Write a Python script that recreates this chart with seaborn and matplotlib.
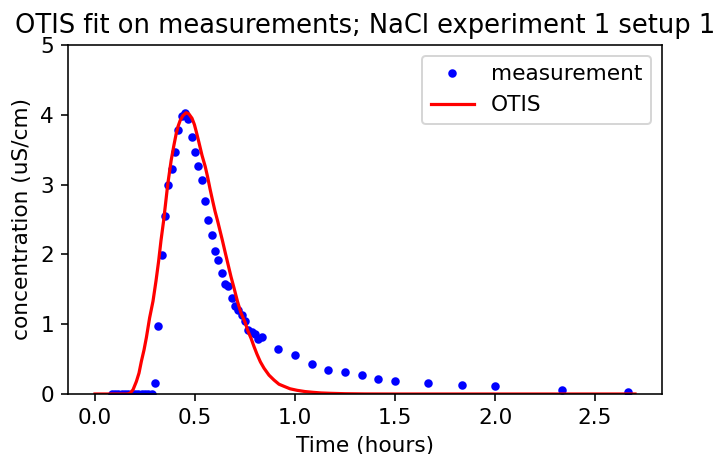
import matplotlib
matplotlib.use("Agg")
import matplotlib.pyplot as plt
import seaborn as sns
import pandas as pd

# Measurement times (hours) and concentrations (uS/cm)
meas_t = [5/60, 6/60, 7/60, 8/60, 9/60, 10/60, 11/60, 12/60, 13/60, 14/60, 15/60, 16/60, 17/60,
          0.300, 0.317, 0.333, 0.350, 0.367, 0.383, 0.400, 0.417, 0.433, 0.450, 0.467, 0.483,
          0.500, 0.517, 0.533, 0.550, 0.567, 0.583, 0.600, 0.617, 0.633, 0.650, 0.667, 0.683,
          0.700, 0.717, 0.733, 0.750, 0.767, 0.783, 0.800, 0.817, 0.833,
          0.917, 1.000, 1.083, 1.167, 1.250, 1.333, 1.417, 1.500, 1.667, 1.833, 2.000, 2.333, 2.667]
meas_c = [0.0, 0.0, 0.0, 0.0, 0.0, 0.0, 0.0, 0.0, 0.0, 0.0, 0.0, 0.0, 0.0,
          0.16, 0.97, 1.99, 2.55, 3.00, 3.23, 3.46, 3.78, 3.98, 4.02, 3.94, 3.68,
          3.47, 3.26, 3.07, 2.76, 2.50, 2.28, 2.05, 1.92, 1.74, 1.58, 1.55, 1.37,
          1.26, 1.21, 1.13, 1.05, 0.91, 0.89, 0.86, 0.79, 0.81,
          0.64, 0.56, 0.43, 0.35, 0.32, 0.27, 0.22, 0.19, 0.16, 0.13, 0.11, 0.057, 0.033]

# OTIS simulated curve
otis_t = [0.0, 0.10, 0.160, 0.175, 0.190, 0.207, 0.220, 0.232, 0.245, 0.257, 0.273, 0.290,
          0.305, 0.318, 0.330, 0.343, 0.364, 0.381, 0.395, 0.406, 0.416, 0.426, 0.440,
          0.456, 0.470, 0.485, 0.497, 0.508, 0.520, 0.535, 0.551, 0.563, 0.575, 0.588,
          0.600, 0.613, 0.625, 0.637, 0.650, 0.665, 0.680, 0.695, 0.712, 0.730, 0.750,
          0.765, 0.780, 0.795, 0.810, 0.827, 0.845, 0.870, 0.895, 0.920, 0.945, 0.975,
          1.010, 1.050, 1.090, 1.130, 1.175, 1.250, 1.350, 1.500, 2.000, 2.700]
otis_c = [0.0, 0.0, 0.0, 0.01, 0.06, 0.18, 0.30, 0.47, 0.63, 0.81, 1.09, 1.33,
          1.62, 1.90, 2.20, 2.48, 3.01, 3.35, 3.57, 3.73, 3.84, 3.92, 3.99,
          4.03, 4.01, 3.95, 3.86, 3.74, 3.60, 3.42, 3.26, 3.11, 2.94, 2.77,
          2.62, 2.48, 2.34, 2.20, 2.04, 1.86, 1.68, 1.52, 1.33, 1.16, 1.03,
          0.90, 0.80, 0.68, 0.57, 0.46, 0.37, 0.27, 0.20, 0.14, 0.11, 0.075,
          0.053, 0.035, 0.024, 0.015, 0.010, 0.004, 0.001, 0.0, 0.0, 0.0]

meas = pd.DataFrame({"t": meas_t, "c": meas_c})
otis = pd.DataFrame({"t": otis_t, "c": otis_c})

fs = 10.8
fig = plt.figure(figsize=(713/144, 454/144), dpi=144)
ax = fig.add_axes([68/713, 1 - 394/454, (662 - 68)/713, (394 - 45)/454])

sns.lineplot(data=meas, x="t", y="c", ax=ax, color="blue", linestyle="none",
             marker=".", markersize=6.5, markeredgecolor="blue", markeredgewidth=1.0,
             label="measurement")
sns.lineplot(data=otis, x="t", y="c", ax=ax, color="red", linewidth=1.6, label="OTIS")

ax.set_xlim(-0.135, 2.835)
ax.set_ylim(0, 5)
ax.set_xticks([0.0, 0.5, 1.0, 1.5, 2.0, 2.5])
ax.set_yticks([0, 1, 2, 3, 4, 5])
ax.tick_params(labelsize=fs)
ax.set_xlabel("Time (hours)", fontsize=fs)
ax.set_ylabel("concentration (uS/cm)", fontsize=fs)
ax.set_title("OTIS fit on measurements; NaCl experiment 1 setup 1", fontsize=12.9)
handles, labels = ax.get_legend_handles_labels()
order = [labels.index("measurement"), labels.index("OTIS")]
ax.legend([handles[i] for i in order], [labels[i] for i in order], loc="upper right", fontsize=fs)

fig.savefig("out.png", dpi=144)
